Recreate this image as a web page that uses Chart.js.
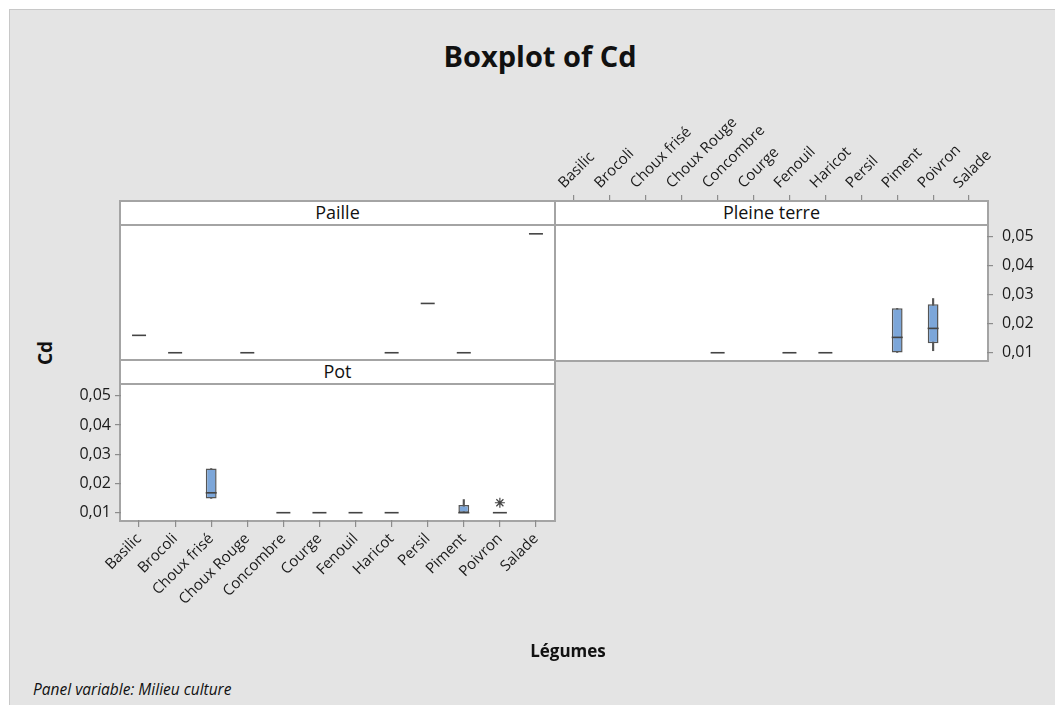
<!DOCTYPE html>
<html>
<head>
<meta charset="utf-8">
<script src="https://cdn.jsdelivr.net/npm/chart.js@4.4.0/dist/chart.umd.min.js"></script>
<style>
  body { margin: 0; width: 1055px; height: 705px; background: #fff; position: relative; overflow: hidden; font-family: 'Open Sans', sans-serif; color: #111; }
  #bg { position: absolute; left: 9px; top: 9px; width: 1046px; height: 696px; background: #e4e4e4; border-left: 1px solid #c8c8c8; border-top: 1px solid #c8c8c8; }
  .frame { position: absolute; box-sizing: border-box; border: 2px solid #a4a4a4; background: #fff; z-index: 1; }
  .strip { position: absolute; box-sizing: border-box; border: 2px solid #a4a4a4; background: #fff; z-index: 3; text-align: center; font-size: 18px; line-height: 21px; }
  canvas { position: absolute; z-index: 2; }
  .txt { position: absolute; z-index: 4; white-space: nowrap; }
</style>
</head>
<body>
<div id="bg"></div>

<div class="txt" style="left:0;width:1080px;top:36px;text-align:center;font-size:29px;font-weight:bold;">Boxplot of Cd</div>

<!-- cadres des panneaux -->
<div class="frame" style="left:119px;top:200px;width:437px;height:162px;"></div>
<div class="frame" style="left:554px;top:200px;width:435px;height:162px;"></div>
<div class="frame" style="left:119px;top:359px;width:437px;height:163px;"></div>
<div class="strip" style="left:119px;top:200px;width:437px;height:26px;">Paille</div>
<div class="strip" style="left:554px;top:200px;width:435px;height:26px;">Pleine terre</div>
<div class="strip" style="left:119px;top:359px;width:437px;height:26px;">Pot</div>

<canvas id="paille" width="433" height="134" style="left:121px;top:226px;"></canvas>
<canvas id="pleine" width="491" height="260" style="left:556px;top:100px;"></canvas>
<canvas id="pot" width="494" height="255" style="left:60px;top:385px;"></canvas>

<div class="txt" style="left:33px;top:340px;font-size:19px;font-weight:bold;transform:rotate(-90deg);transform-origin:center;">Cd</div>
<div class="txt" style="left:0;width:1136px;top:639px;text-align:center;font-size:17px;font-weight:bold;">Légumes</div>
<div class="txt" style="left:33px;top:678px;font-size:15.5px;font-style:italic;">Panel variable: Milieu culture</div>

<script>
// catégories et graduations
const categories = ['Basilic', 'Brocoli', 'Choux frisé', 'Choux Rouge', 'Concombre', 'Courge', 'Fenouil', 'Haricot', 'Persil', 'Piment', 'Poivron', 'Salade'];
const yTicks = [0.01, 0.02, 0.03, 0.04, 0.05];
const yMin = 0.0075;
const yMax = 0.0537;

// Paille (une seule valeur par légume)
const pailleMed = [0.016, 0.010, null, 0.010, null, null, null, 0.010, 0.027, 0.010, null, 0.051];
const pailleQ1 = [null, null, null, null, null, null, null, null, null, null, null, null];
const pailleQ3 = [null, null, null, null, null, null, null, null, null, null, null, null];
const pailleLow = [null, null, null, null, null, null, null, null, null, null, null, null];
const pailleHigh = [null, null, null, null, null, null, null, null, null, null, null, null];
const pailleOut = [null, null, null, null, null, null, null, null, null, null, null, null];

// Pleine terre
const pleineMed = [null, null, null, null, 0.010, null, 0.010, 0.010, null, 0.0153, 0.0184, null];
const pleineQ1 = [null, null, null, null, null, null, null, null, null, 0.0101, 0.0133, null];
const pleineQ3 = [null, null, null, null, null, null, null, null, null, 0.0253, 0.0267, null];
const pleineLow = [null, null, null, null, null, null, null, null, null, 0.0101, 0.0107, null];
const pleineHigh = [null, null, null, null, null, null, null, null, null, 0.0253, 0.0287, null];
const pleineOut = [null, null, null, null, null, null, null, null, null, null, null, null];

// Pot
const potMed = [null, null, 0.0168, null, 0.010, 0.010, 0.010, 0.010, null, 0.010, 0.010, null];
const potQ1 = [null, null, 0.0149, null, null, null, null, null, null, 0.010, null, null];
const potQ3 = [null, null, 0.0251, null, null, null, null, null, null, 0.0126, null, null];
const potLow = [null, null, 0.0149, null, null, null, null, null, null, 0.010, null, null];
const potHigh = [null, null, 0.0251, null, null, null, null, null, null, 0.0145, null, null];
const potOut = [null, null, null, null, null, null, null, null, null, null, 0.0134, null];

const FONT = "'Open Sans', sans-serif";
const TICK_COLOR = '#8c8c8c';
const LABEL_COLOR = '#1a1a1a';

function pair(a, b) {
  return a.map((v, i) => v == null ? null : [v, b[i]]);
}

// boîtes à moustaches : moustache + boîte (barres flottantes), médiane et valeurs aberrantes (points)
function boxDatasets(med, q1, q3, low, high, out) {
  return [
    { type: 'bar', data: pair(low, high), backgroundColor: '#555', barThickness: 1.5, grouped: false, order: 3 },
    { type: 'bar', data: pair(q1, q3), backgroundColor: '#7ca6d9', borderColor: '#555', borderWidth: 1.5,
      borderSkipped: false, grouped: false, barPercentage: 0.3, categoryPercentage: 1, order: 2 },
    { type: 'line', data: med, showLine: false, pointStyle: 'line', borderColor: '#444', borderWidth: 1.6,
      radius: ctx => q1[ctx.dataIndex] != null ? 5.5 : 7, clip: false, order: 1 },
    { type: 'line', data: out, showLine: false, pointStyle: 'star', borderColor: '#444', borderWidth: 1.2,
      radius: 5, clip: false, order: 0 }
  ];
}

// pas de marge automatique : la zone de tracé doit remplir exactement le cadre
function noMargins(sc) {
  sc.paddingTop = 0;
  sc.paddingBottom = 0;
  sc.paddingLeft = 0;
  sc.paddingRight = 0;
}

function yScale(position, show) {
  const s = {
    type: 'linear', position: position, min: yMin, max: yMax, display: show,
    afterBuildTicks: sc => { sc.ticks = yTicks.map(v => ({ value: v })); },
    grid: { drawOnChartArea: false, tickLength: 6, color: TICK_COLOR, lineWidth: 1.2 },
    border: { display: false },
    ticks: { padding: position === 'right' ? 9 : 4, color: LABEL_COLOR, font: { family: FONT, size: 16 },
      callback: v => v.toFixed(2).replace('.', ',') }
  };
  if (show) s.afterFit = sc => { sc.width = position === 'right' ? 60 : 61; noMargins(sc); };
  return s;
}

function xScale(position, show, tickLen, size) {
  const s = {
    type: 'category', position: position, display: show, offset: true,
    grid: { drawOnChartArea: false, tickLength: tickLen, color: TICK_COLOR, lineWidth: 1.2, offset: false },
    border: { display: false },
    ticks: { minRotation: 45, maxRotation: 45, autoSkip: false, padding: 3, color: LABEL_COLOR, font: { family: FONT, size: 15 } }
  };
  if (show) s.afterFit = sc => { sc.height = size; noMargins(sc); };
  return s;
}

function createPanel(id, datasets, scales) {
  new Chart(document.getElementById(id).getContext('2d'), {
    type: 'bar',
    data: { labels: categories, datasets: datasets },
    options: {
      responsive: false,
      animation: false,
      layout: { padding: 0, autoPadding: false },
      plugins: { legend: { display: false }, tooltip: { enabled: false } },
      scales: scales
    }
  });
}

createPanel('paille', boxDatasets(pailleMed, pailleQ1, pailleQ3, pailleLow, pailleHigh, pailleOut),
  { x: xScale('bottom', false, 0, 0), y: yScale('left', false) });

createPanel('pleine', boxDatasets(pleineMed, pleineQ1, pleineQ3, pleineLow, pleineHigh, pleineOut),
  { x: xScale('top', true, 31, 126), y: yScale('right', true) });

createPanel('pot', boxDatasets(potMed, potQ1, potQ3, potLow, potHigh, potOut),
  { x: xScale('bottom', true, 7, 120), y: yScale('left', true) });
</script>
</body>
</html>
